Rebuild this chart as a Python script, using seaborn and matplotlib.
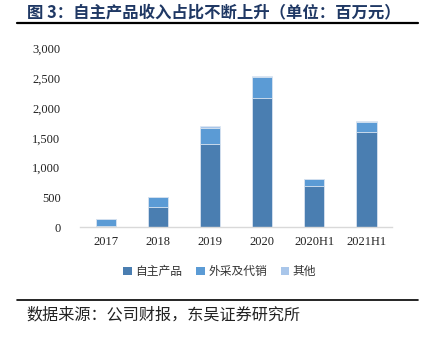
import matplotlib
matplotlib.use("Agg")
import matplotlib.pyplot as plt
import seaborn as sns
import pandas as pd
import numpy as np
from matplotlib.patches import Patch
from matplotlib.lines import Line2D

categories = ["2017", "2018", "2019", "2020", "2020H1", "2021H1"]
self_products = [30, 338, 1391, 2160, 689, 1592]
outsourced = [117, 167, 273, 363, 124, 172]
others = [2, 3, 25, 6, 5, 22]
series_names = ["自主产品", "外采及代销", "其他"]
yticks = [0, 500, 1000, 1500, 2000, 2500, 3000]

colors = ["#4A7EB1", "#5B9BD5", "#A9C6EA"]

sns.set_theme(style="white")
plt.rcParams['font.family'] = ['Noto Sans CJK SC', 'DejaVu Sans']

fig = plt.figure(figsize=(4.23, 3.41), dpi=100)
ax = fig.add_axes([0.189, 0.333, 0.738, 0.526])

s1 = np.array(self_products)
s2 = s1 + np.array(outsourced)
s3 = s2 + np.array(others)
df = pd.DataFrame({"cat": categories, "s1": s1, "s2": s2, "s3": s3})

for col, c in zip(["s3", "s2", "s1"], colors[::-1]):
    sns.barplot(data=df, x="cat", y=col, color=c, width=0.4, ax=ax,
                edgecolor="#DCE6F2", linewidth=0.6, saturation=1)

ax.set_xlim(-0.5, 5.5)
ax.set_ylim(0, 3000)
ax.set_yticks(yticks)
ax.set_yticklabels([f"{v:,}" for v in yticks], family="Liberation Serif", fontsize=9, color="#222222")
ax.set_xticks(range(len(categories)))
ax.set_xticklabels(categories, family="Liberation Serif", fontsize=9, color="#222222")
ax.set_xlabel("")
ax.set_ylabel("")
for sp in ["top", "right", "left"]:
    ax.spines[sp].set_visible(False)
ax.spines["bottom"].set_color("#D9D9D9")
ax.spines["bottom"].set_linewidth(1.0)
ax.tick_params(axis="both", length=0, pad=6)
ax.tick_params(axis="y", pad=14)

handles = [Patch(facecolor=c, edgecolor="none") for c in colors]
fig.legend(handles, series_names, loc="center", bbox_to_anchor=(0.52, 0.203),
           ncol=3, frameon=False, fontsize=8.5, handlelength=0.7, handleheight=0.7,
           handletextpad=0.3, columnspacing=1.2, labelcolor="#333333")

fig.text(0.064, 0.963, "图 3：自主产品收入占比不断上升（单位：百万元）", fontsize=11.8,
         fontweight="bold", color="#1F3864", va="center", ha="left")
fig.add_artist(Line2D([0.04, 0.988], [0.932, 0.932], color="black", linewidth=1.6))
fig.add_artist(Line2D([0.04, 0.988], [0.12, 0.12], color="black", linewidth=1.2))
fig.text(0.062, 0.076, "数据来源：公司财报，东吴证券研究所", fontsize=11.6,
         color="#222222", va="center", ha="left")

fig.savefig("out.png", dpi=100)
